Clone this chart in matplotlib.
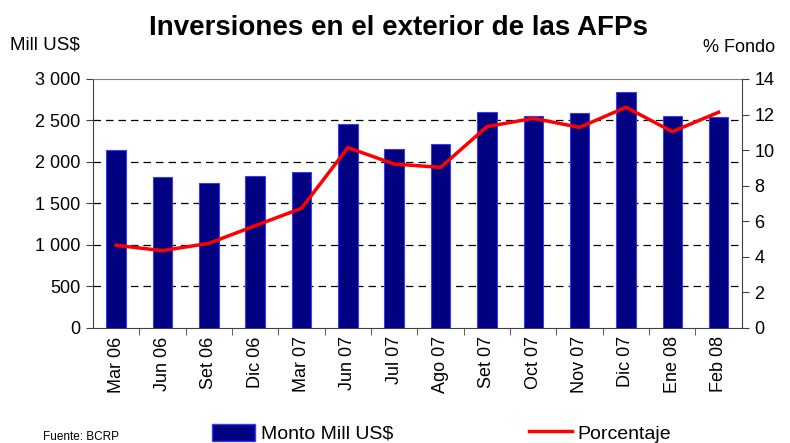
import matplotlib
matplotlib.use("Agg")
import matplotlib.pyplot as plt
from matplotlib.patches import Patch
from matplotlib.lines import Line2D

plt.rcParams['font.family'] = ['Liberation Sans', 'DejaVu Sans']

# data
meses = ["Mar 06", "Jun 06", "Set 06", "Dic 06", "Mar 07", "Jun 07", "Jul 07",
         "Ago 07", "Set 07", "Oct 07", "Nov 07", "Dic 07", "Ene 08", "Feb 08"]
monto = [2140, 1816, 1751, 1835, 1876, 2454, 2153, 2217, 2606, 2558, 2587, 2840, 2558, 2539]
porcentaje = [4.65, 4.35, 4.76, 5.75, 6.73, 10.14, 9.22, 9.03, 11.32, 11.79, 11.28, 12.41, 11.04, 12.13]
left_ticks = [0, 500, 1000, 1500, 2000, 2500, 3000]
left_labels = ["0", "500", "1 000", "1 500", "2 000", "2 500", "3 000"]
right_ticks = [0, 2, 4, 6, 8, 10, 12, 14]

fig = plt.figure(figsize=(7.9, 4.43), dpi=100)
ax = fig.add_axes([0.1177, 0.2596, 0.8213, 0.5621])

x = list(range(len(meses)))
ax.bar(x, monto, width=0.42, color="#000080", edgecolor="#3a3aff", linewidth=0.8, zorder=3)
ax.set_xlim(-0.5, len(meses) - 0.5)
ax.set_ylim(0, 3000)
ax.set_yticks(left_ticks)
ax.set_yticklabels(left_labels, fontsize=13)
ax.set_xticks(x)
ax.set_xticklabels(meses, rotation=90, fontsize=13)
ax.set_xticks([i + 0.5 for i in x[:-1]], minor=True)
ax.tick_params(axis="x", which="major", length=0, pad=6)
ax.tick_params(axis="x", which="minor", length=5, color="#404040")
ax.tick_params(axis="y", length=5, color="#404040", pad=4)

for v in left_ticks[1:-1]:
    ax.axhline(v, color="black", linestyle=(0, (6, 4)), linewidth=0.9, zorder=1)

ax.spines["top"].set_color("#808080")
ax.spines["left"].set_color("#404040")
ax.spines["bottom"].set_color("#404040")
ax.spines["right"].set_visible(False)

ax2 = ax.twinx()
ax2.plot(x, porcentaje, color="#ff0000", linewidth=2.5, zorder=4)
ax2.set_ylim(0, 14)
ax2.set_yticks(right_ticks)
ax2.set_yticklabels([str(t) for t in right_ticks], fontsize=13)
ax2.tick_params(axis="y", length=5, color="#404040", pad=4)
ax2.spines["right"].set_color("#404040")
ax2.spines["top"].set_visible(False)
ax2.spines["left"].set_visible(False)
ax2.spines["bottom"].set_visible(False)

fig.text(0.505, 0.937, "Inversiones en el exterior de las AFPs", ha="center", va="center",
         fontsize=20, fontweight="bold")
fig.text(0.013, 0.898, "Mill US$", ha="left", va="center", fontsize=13.5)
fig.text(0.89, 0.893, "% Fondo", ha="left", va="center", fontsize=13)
fig.text(0.055, 0.013, "Fuente: BCRP", ha="left", va="center", fontsize=8.5)

handles = [Patch(facecolor="#000080", edgecolor="#3a3aff"),
           Line2D([0], [0], color="#ff0000", linewidth=2.5)]
fig.legend(handles, ["Monto Mill US$", "Porcentaje"], loc="center", bbox_to_anchor=(0.559, 0.022),
           ncol=2, frameon=False, fontsize=14, columnspacing=7.0,
           handlelength=2.2, handleheight=1.0, handletextpad=0.3, borderaxespad=0)

fig.savefig("out.png", dpi=100)
